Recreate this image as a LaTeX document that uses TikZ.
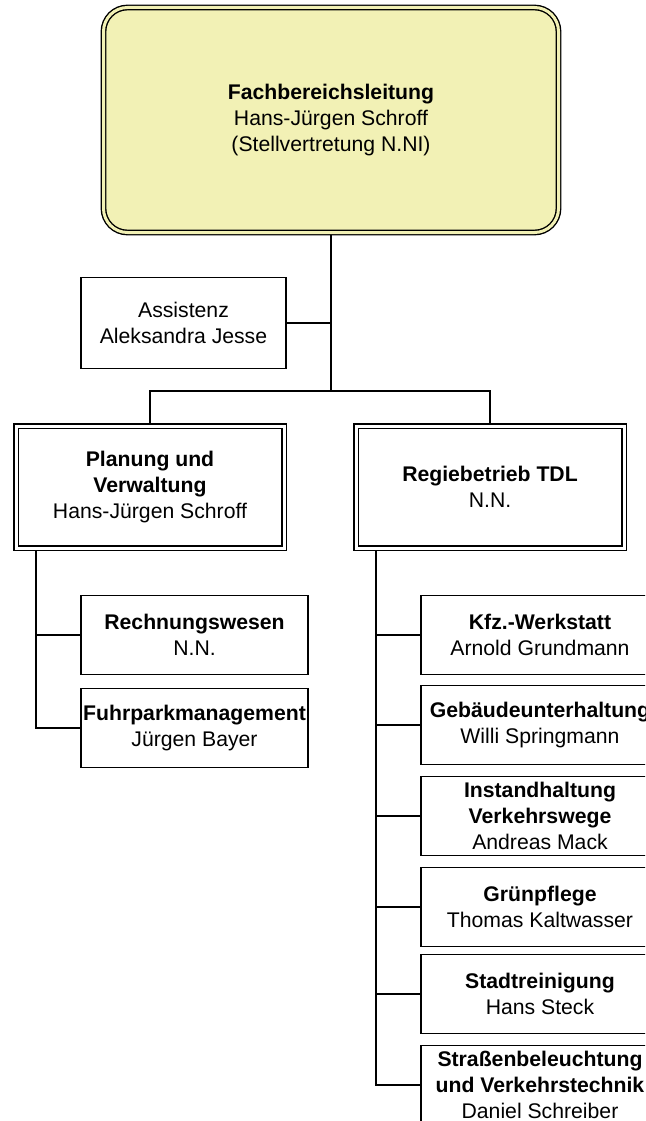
\documentclass[tikz,border=0pt]{standalone}
\usepackage{fontspec}
\setmainfont{Liberation Sans}
\usetikzlibrary{backgrounds}
\definecolor{fby}{RGB}{242,241,181}
\begin{document}
\begin{tikzpicture}[x=1pt,y=-1pt,
  every node/.style={font=\fontsize{21.2pt}{26pt}\selectfont, align=center, inner sep=0pt, outer sep=0pt},
  topbox/.style={draw, line width=1.4pt, double=fby, double distance=3pt, fill=fby, rounded corners=24pt, minimum width=455pt, minimum height=225pt},
  dbox/.style={draw, line width=1.2pt, double=white, double distance=3pt, fill=white, minimum width=268pt, minimum height=122pt},
  sbox/.style={draw, line width=1.3pt, fill=white},
  lbox/.style={sbox, minimum width=227pt, minimum height=79pt},
  rbox/.style={sbox, minimum width=238pt, minimum height=79pt},
  link/.style={line width=1.6pt}]
\useasboundingbox (0,0) rectangle (645,1121);
\clip (0,0) rectangle (645,1121);

\node[topbox] (top) at (331,120) {\textbf{Fachbereichsleitung}\\Hans-Jürgen Schroff\\(Stellvertretung N.NI)};
\node[sbox, minimum width=205pt, minimum height=91pt] (ass) at (183.5,323) {Assistenz\\Aleksandra Jesse};
\node[dbox] (plan) at (150,487) {\textbf{Planung und}\\\textbf{Verwaltung}\\Hans-Jürgen Schroff};
\node[dbox] (regie) at (490,487) {\textbf{Regiebetrieb TDL}\\N.N.};

\node[lbox] (rw) at (194.5,635) {\textbf{Rechnungswesen}\\N.N.};
\node[lbox] (fp) at (194.5,728) {\textbf{Fuhrparkmanagement}\\Jürgen Bayer};

\node[rbox] (kfz) at (540,635) {\textbf{Kfz.-Werkstatt}\\Arnold Grundmann};
\node[rbox] (geb) at (540,725) {\textbf{Gebäudeunterhaltung}\\Willi Springmann};
\node[rbox] (inst) at (540,816) {\textbf{Instandhaltung}\\\textbf{Verkehrswege}\\Andreas Mack};
\node[rbox] (gruen) at (540,907) {\textbf{Grünpflege}\\Thomas Kaltwasser};
\node[rbox] (stadt) at (540,994) {\textbf{Stadtreinigung}\\Hans Steck};
\node[rbox] (str) at (540,1085) {\textbf{Straßenbeleuchtung}\\\textbf{und Verkehrstechnik}\\Daniel Schreiber};

\begin{pgfonlayer}{background}
\coordinate (bus) at (331,391);
\coordinate (lt) at (36,548);
\coordinate (rt) at (376,548);
\draw[link] (top.south) -- (bus);
\draw[link] (ass.east) -- (ass.east -| bus);
\draw[link] (plan.north) |- (bus) -| (regie.north);
\draw[link] (lt) |- (fp.west);
\draw[link] (rw.west) -- (rw.west -| lt);
\draw[link] (rt) |- (str.west);
\draw[link] (kfz.west) -- (kfz.west -| rt);
\draw[link] (geb.west) -- (geb.west -| rt);
\draw[link] (inst.west) -- (inst.west -| rt);
\draw[link] (gruen.west) -- (gruen.west -| rt);
\draw[link] (stadt.west) -- (stadt.west -| rt);
\end{pgfonlayer}
\end{tikzpicture}
\end{document}
